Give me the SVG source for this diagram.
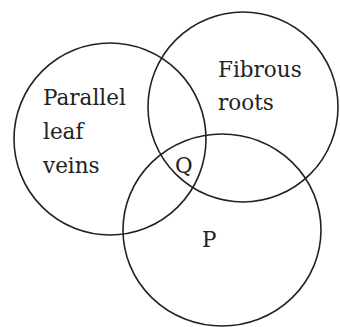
<svg xmlns="http://www.w3.org/2000/svg" width="340" height="327" viewBox="0 0 340 327">
<style>
.c{fill:none;stroke:#222;stroke-width:1.6}
.t{font-family:"DejaVu Serif","Liberation Serif",serif;font-size:21.5px;fill:#222}
</style>
<rect width="340" height="327" fill="#fff"/>
<g id="leaf-circle"><circle class="c" cx="110" cy="139" r="96"/>
<text class="t" x="43" y="105">Parallel</text>
<text class="t" x="43" y="139">leaf</text>
<text class="t" x="43" y="173">veins</text></g>
<g id="root-circle"><circle class="c" cx="243" cy="107" r="95"/>
<text class="t" x="218" y="77">Fibrous</text>
<text class="t" x="218" y="110">roots</text></g>
<g id="p-circle"><ellipse class="c" cx="222" cy="230" rx="99" ry="96"/>
<text class="t" x="202" y="247">P</text></g>
<g id="q"><text class="t" x="175" y="173">Q</text></g>
</svg>
